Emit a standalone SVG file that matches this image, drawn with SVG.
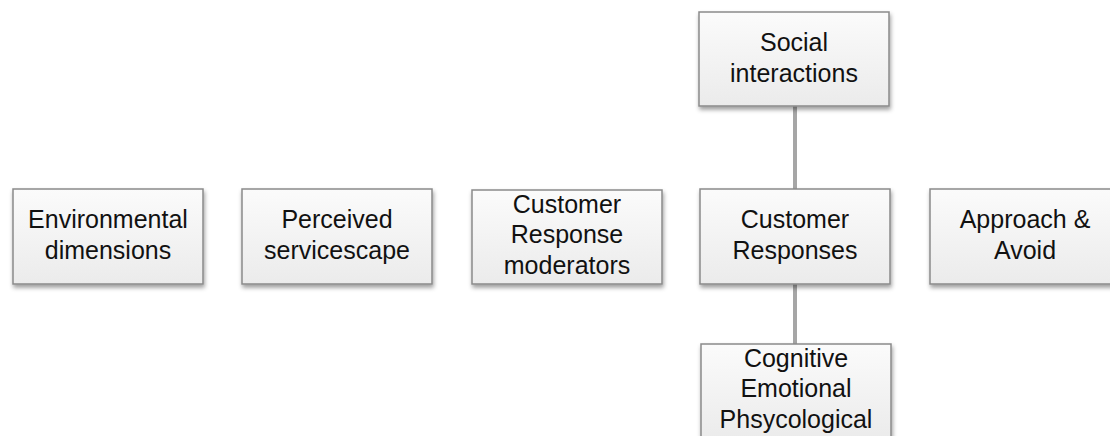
<svg xmlns="http://www.w3.org/2000/svg" width="1110" height="436" viewBox="0 0 1110 436">
  <defs>
    <linearGradient id="boxFill" x1="0" y1="0" x2="0" y2="1">
      <stop offset="0" stop-color="#fbfbfb"/>
      <stop offset="1" stop-color="#ebebeb"/>
    </linearGradient>
    <filter id="shadow" x="-10%" y="-10%" width="125%" height="130%">
      <feDropShadow dx="1" dy="3" stdDeviation="2" flood-color="#000" flood-opacity="0.38"/>
    </filter>
  </defs>
  <style>
    .box { fill: url(#boxFill); stroke: #8a8a8a; stroke-width: 1.5; filter: url(#shadow); }
    .lbl { font-family: "Liberation Sans", Arial, sans-serif; font-size: 25px; fill: #111; text-anchor: middle; }
    .conn { stroke: #a6a6a6; stroke-width: 4; fill: none; }
  </style>
  <rect width="1110" height="436" fill="#ffffff"/>

  <g id="connectors">
    <line class="conn" x1="795" y1="106" x2="795" y2="189"/>
    <line class="conn" x1="795" y1="284" x2="795" y2="344"/>
  </g>

  <g id="environmental">
    <rect class="box" x="13" y="189" width="190" height="95"/>
    <text class="lbl" x="108" y="228">Environmental</text>
    <text class="lbl" x="108" y="259">dimensions</text>
  </g>

  <g id="perceived">
    <rect class="box" x="242" y="189" width="190" height="95"/>
    <text class="lbl" x="337" y="228">Perceived</text>
    <text class="lbl" x="337" y="259">servicescape</text>
  </g>

  <g id="moderators">
    <rect class="box" x="472" y="190" width="190" height="94"/>
    <text class="lbl" x="567" y="213">Customer</text>
    <text class="lbl" x="567" y="243">Response</text>
    <text class="lbl" x="567" y="274">moderators</text>
  </g>

  <g id="social">
    <rect class="box" x="699" y="12" width="190" height="94"/>
    <text class="lbl" x="794" y="51">Social</text>
    <text class="lbl" x="794" y="82">interactions</text>
  </g>

  <g id="responses">
    <rect class="box" x="700" y="189" width="190" height="95"/>
    <text class="lbl" x="795" y="228">Customer</text>
    <text class="lbl" x="795" y="259">Responses</text>
  </g>

  <g id="approach">
    <rect class="box" x="930" y="189" width="190" height="95"/>
    <text class="lbl" x="1025" y="228">Approach &amp;</text>
    <text class="lbl" x="1025" y="259">Avoid</text>
  </g>

  <g id="cognitive">
    <rect class="box" x="701" y="344" width="190" height="95"/>
    <text class="lbl" x="796" y="367">Cognitive</text>
    <text class="lbl" x="796" y="397">Emotional</text>
    <text class="lbl" x="796" y="428">Phsycological</text>
  </g>
</svg>
